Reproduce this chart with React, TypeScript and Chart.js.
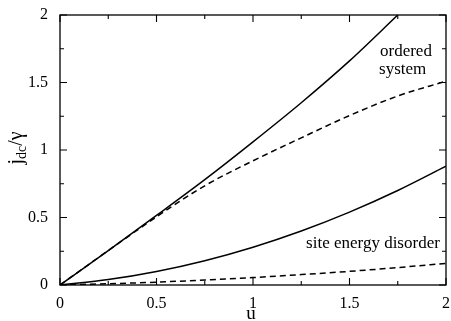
import React, { useEffect, useRef } from "react";
import { Chart, registerables } from "chart.js";

Chart.register(...registerables);

// u values (x axis)
const uOrdered = [0, 0.25, 0.5, 0.75, 1.0, 1.25, 1.5, 1.75];
const uGrid = [0, 0.25, 0.5, 0.75, 1.0, 1.25, 1.5, 1.75, 2.0];

// j_dc / gamma values
const jOrderedSolid = [0, 0.255, 0.515, 0.78, 1.06, 1.35, 1.66, 2.0];
const jOrderedDashed = [0, 0.255, 0.505, 0.735, 0.92, 1.09, 1.255, 1.4, 1.51];
const jDisorderSolid = [0, 0.04, 0.1, 0.18, 0.28, 0.4, 0.54, 0.7, 0.88];
const jDisorderDashed = [0, 0.009, 0.021, 0.037, 0.055, 0.077, 0.101, 0.129, 0.16];

const majorTicks = [0, 0.5, 1, 1.5, 2];
const minorTicks = [0.25, 0.75, 1.25, 1.75];

const annotationOrdered = ["ordered", "system"];
const annotationDisorder = "site energy disorder";

const SERIF = '"Liberation Serif", Tinos, "Times New Roman", Times, "DejaVu Serif", "Noto Serif", serif';

const toXY = (xs: number[], ys: number[]) => ys.map((y, i) => ({ x: xs[i], y }));

const framePlugin = {
  id: "frame",
  afterDraw(chart: any) {
    const { ctx, chartArea: a, scales } = chart;
    const xs = scales.x;
    const ys = scales.y;
    ctx.save();
    ctx.strokeStyle = "#000";
    ctx.lineWidth = 1.3;
    ctx.strokeRect(a.left, a.top, a.right - a.left, a.bottom - a.top);
    const major = 7;
    const minor = 4;
    ctx.lineWidth = 1.1;
    ctx.beginPath();
    const drawX = (v: number, len: number) => {
      const px = xs.getPixelForValue(v);
      ctx.moveTo(px, a.bottom);
      ctx.lineTo(px, a.bottom - len);
      ctx.moveTo(px, a.top);
      ctx.lineTo(px, a.top + len);
    };
    const drawY = (v: number, len: number) => {
      const py = ys.getPixelForValue(v);
      ctx.moveTo(a.left, py);
      ctx.lineTo(a.left + len, py);
      ctx.moveTo(a.right, py);
      ctx.lineTo(a.right - len, py);
    };
    majorTicks.forEach((v) => { drawX(v, major); drawY(v, major); });
    minorTicks.forEach((v) => { drawX(v, minor); drawY(v, minor); });
    ctx.stroke();

    // annotations
    ctx.fillStyle = "#000";
    ctx.font = `17px ${SERIF}`;
    ctx.textAlign = "left";
    ctx.textBaseline = "alphabetic";
    ctx.fillText(annotationOrdered[0], xs.getPixelForValue(1.658), ys.getPixelForValue(1.70));
    ctx.fillText(annotationOrdered[1], xs.getPixelForValue(1.653), ys.getPixelForValue(1.563));
    ctx.fillText(annotationDisorder, xs.getPixelForValue(1.275), ys.getPixelForValue(0.276));

    // x title
    ctx.font = `19px ${SERIF}`;
    ctx.textAlign = "center";
    ctx.fillText("u", (a.left + a.right) / 2 - 2, 319);

    // y title j_dc / gamma, rotated
    ctx.textAlign = "left";
    const big = `20px ${SERIF}`;
    const small = `14px ${SERIF}`;
    ctx.font = big;
    const wj = ctx.measureText("j").width;
    const wg = ctx.measureText("/γ").width;
    ctx.font = small;
    const wd = ctx.measureText("dc").width;
    const total = wj + wd + wg;
    ctx.translate(22, (a.top + a.bottom) / 2 - 2 + total / 2);
    ctx.rotate(-Math.PI / 2);
    ctx.font = big;
    ctx.fillText("j", 0, 0);
    ctx.font = small;
    ctx.fillText("dc", wj, 4);
    ctx.font = big;
    ctx.fillText("/γ", wj + wd, 0);
    ctx.restore();
  },
};

export default function App() {
  const ref = useRef<HTMLCanvasElement>(null);
  useEffect(() => {
    const line = (data: any[], dashed: boolean) => ({
      data,
      borderColor: "#000",
      borderWidth: 1.5,
      borderDash: dashed ? [6, 4] : [],
      pointRadius: 0,
      fill: false,
      cubicInterpolationMode: "monotone" as const,
    });
    const chart = new Chart(ref.current!, {
      type: "line",
      data: {
        datasets: [
          line(toXY(uOrdered, jOrderedSolid), false),
          line(toXY(uGrid, jOrderedDashed), true),
          line(toXY(uGrid, jDisorderSolid), false),
          line(toXY(uGrid, jDisorderDashed), true),
        ],
      },
      options: {
        responsive: false,
        animation: false,
        devicePixelRatio: 1,
        layout: { padding: { top: 15, right: 5, left: 0, bottom: 0 } },
        plugins: { legend: { display: false }, tooltip: { enabled: false } },
        scales: {
          x: {
            type: "linear",
            min: 0,
            max: 2,
            grid: { display: false },
            border: { display: false },
            afterFit: (s: any) => { s.height = 36; },
            afterBuildTicks: (s: any) => { s.ticks = majorTicks.map((v) => ({ value: v })); },
            ticks: {
              color: "#000",
              padding: 1,
              maxRotation: 0,
              font: { family: SERIF, size: 16 },
              callback: (v: any) => String(v),
            },
          },
          y: {
            type: "linear",
            min: 0,
            max: 2,
            grid: { display: false },
            border: { display: false },
            afterFit: (s: any) => { s.width = 60; },
            afterBuildTicks: (s: any) => { s.ticks = majorTicks.map((v) => ({ value: v })); },
            ticks: {
              color: "#000",
              padding: 4,
              font: { family: SERIF, size: 16 },
              callback: (v: any) => String(v),
            },
          },
        },
      },
      plugins: [framePlugin],
    });
    return () => chart.destroy();
  }, []);
  return (
    <div style={{ position: "absolute", left: 0, top: 0, width: 451, height: 321, background: "#fff" }}>
      <canvas ref={ref} width={451} height={321} style={{ display: "block" }} />
    </div>
  );
}
